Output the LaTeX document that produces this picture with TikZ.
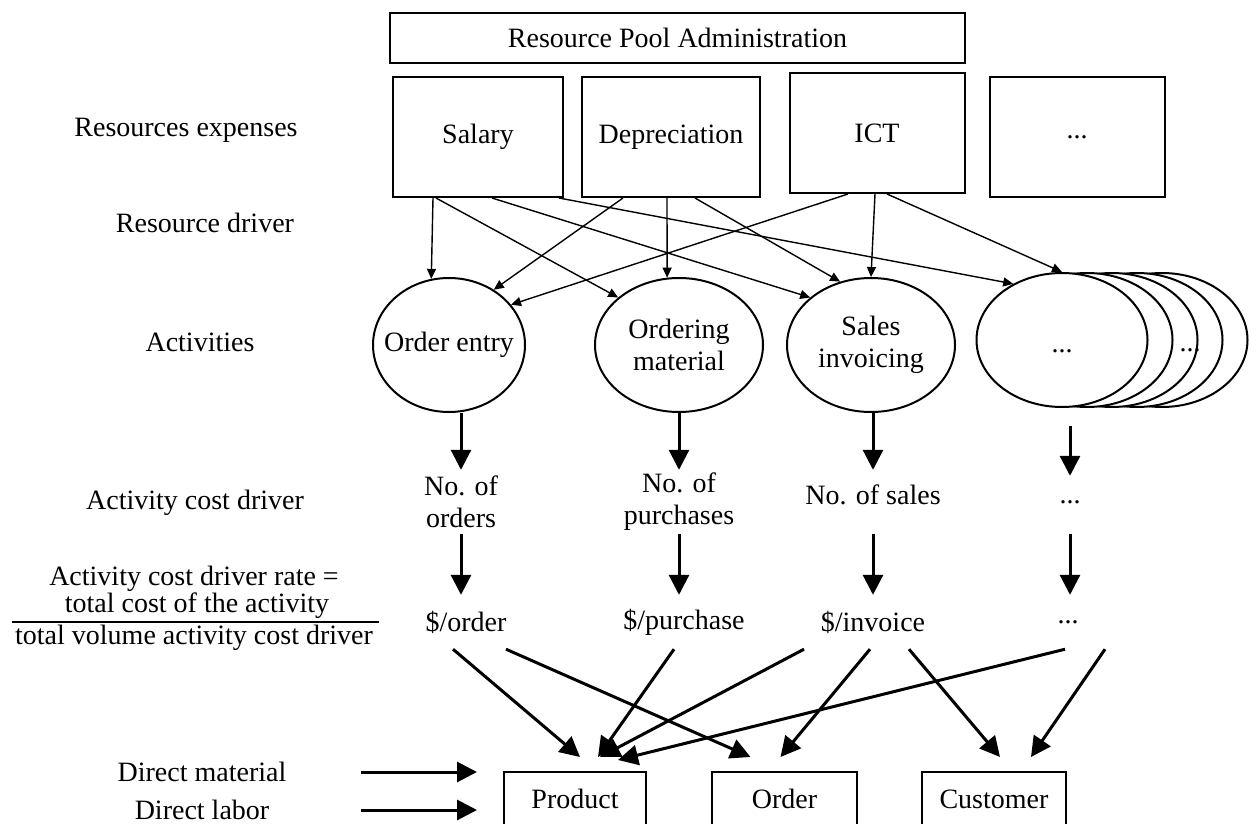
\documentclass[tikz,border=0pt]{standalone}
\usepackage{fontspec}
\setmainfont{Liberation Serif}
\usetikzlibrary{arrows.meta,shapes.geometric,calc}

\begin{document}
\begin{tikzpicture}[x=1pt, y=-1pt,
  font=\fontsize{28pt}{32pt}\selectfont,
  every node/.style={inner sep=0pt},
  rowlabel/.style={align=center},
  resbox/.style={draw, line width=2pt, minimum height=120pt, align=center},
  activity/.style={draw, ellipse, line width=2pt, fill=white, minimum width=168pt, minimum height=134pt, align=center},
  driver/.style={align=center, minimum height=64pt},
  rate/.style={align=center, minimum height=54pt},
  costobj/.style={draw, line width=2pt, minimum height=54pt, outer ysep=15pt},
  thinarrow/.style={-{Triangle[length=10pt,width=9pt]}, line width=1.4pt},
  bigarrow/.style={-{Triangle[length=20pt,width=20pt]}, line width=3pt}
]
\useasboundingbox (0,0) rectangle (1259,824);

% resources
\node[draw, line width=2pt, minimum width=575pt, minimum height=50pt] (pool) at (677.5,38) {Resource Pool Administration};
\node[resbox, minimum width=170pt] (salary) at (478,137) {Salary};
\node[resbox, minimum width=178pt] (depr) at (671,137) {Depreciation};
\node[resbox, minimum width=175pt] (ict) at (877,133) {ICT};
\node[resbox, minimum width=175pt] (resdots) at (1077,137) {...};

% row labels
\node[rowlabel] (lres) at (186,130) {Resources expenses};
\node[rowlabel] (ldrv) at (205,223) {Resource driver};
\node[rowlabel] (lact) at (200,342) {Activities};
\node[rowlabel] (lcost) at (195,503) {Activity cost driver};
\node[rowlabel] (lrate) at (194,579) {Activity cost driver rate =};
\node[rowlabel] (lnum) at (197,606) {total cost of the activity};
\node[rowlabel] (lden) at (194,638) {total volume activity cost driver};
\draw[line width=1.5pt] ($(lden.north west)+(-3pt,3pt)$) -- ($(lden.north east)+(6pt,3pt)$);

% activities
\node[activity, minimum width=152pt, inner xsep=-16pt] (oentry) at (449,345) {Order entry};
\node[activity] (omat) at (679,345) {Ordering\\material};
\node[activity] (sinv) at (871,345) {Sales\\invoicing};
\foreach \k in {4,3,2,1}
  \node[activity, minimum width=171pt] (back\k) at (1062+25*\k,340) {};
\node[activity, minimum width=171pt, text height=26pt] (actdots) at (1062,340) {...};
\node (backdots) at (1190,350) {...};

% cost drivers and rates
\node[driver] (dorder) at (461,502) {No. of\\orders};
\node[driver] (dpurch) at (679,502) {No. of\\purchases};
\node[driver, text depth=14pt] (dsales) at (873,502) {No. of sales};
\node[driver] (ddots) at (1070,502) {...};
\node[rate] (rorder) at (466,622) {\$/order};
\node[rate] (rpurch) at (684,622) {\$/purchase};
\node[rate] (rinv) at (873,622) {\$/invoice};
\node[rate] (rdots) at (1068,622) {...};

% cost objects
\node[costobj, minimum width=142pt] (product) at (575,799) {Product};
\node[costobj, minimum width=145pt] (order) at (784.5,799) {Order};
\node[costobj, minimum width=144pt] (customer) at (994,799) {Customer};
\node[rowlabel] (dmat) at (202,772) {Direct material};
\node[rowlabel] (dlab) at (202,810) {Direct labor};

% resource drivers
\draw[thinarrow] ([xshift=-45pt]salary.south) -- (oentry.105);
\draw[thinarrow] ([xshift=-42pt]salary.south) -- (omat.142);
\draw[thinarrow] ([xshift=14pt]salary.south) -- (sinv.142);
\draw[thinarrow] ([xshift=-5pt]salary.south east) -- (actdots.131);
\draw[thinarrow] ([xshift=-48pt]depr.south) -- (oentry.51);
\draw[thinarrow] ([xshift=-4pt]depr.south) -- (omat.100);
\draw[thinarrow] ([xshift=24pt]depr.south) -- (sinv.116);
\draw[thinarrow] ([xshift=-29pt]ict.south) -- (oentry.33);
\draw[thinarrow] ([xshift=-2pt]ict.south) -- (sinv.north);
\draw[thinarrow] ([xshift=10pt]ict.south) -- (actdots.north);

% activity cost drivers
\draw[bigarrow] (oentry.south -| dorder) -- (dorder);
\draw[bigarrow] (dorder) -- (dorder |- rorder.north);
\draw[bigarrow] (omat.south -| dpurch) -- (dpurch);
\draw[bigarrow] (dpurch) -- (dpurch |- rpurch.north);
\draw[bigarrow] (sinv.south -| dsales) -- (dsales);
\draw[bigarrow] (dsales) -- (dsales |- rinv.north);
\draw[bigarrow, shorten <=18pt, shorten >=-6pt] (actdots.south -| ddots) -- (ddots);
\draw[bigarrow] (ddots) -- (ddots |- rdots.north);

% assignment to cost objects
\draw[bigarrow] ([xshift=-13pt]rorder.south) -- ([xshift=5pt]product.north);
\draw[bigarrow] ([xshift=40pt]rorder.south) -- ([xshift=-34pt]order.north);
\draw[bigarrow] ([xshift=-10pt]rpurch.south) -- ([xshift=23pt]product.north);
\draw[bigarrow] ([xshift=-69pt]rinv.south) -- ([xshift=25pt]product.north);
\draw[bigarrow] ([xshift=-3pt]rinv.south) -- ([xshift=-4pt]order.north);
\draw[bigarrow] ([xshift=36pt]rinv.south) -- ([xshift=6pt]customer.north);
\draw[bigarrow] ([xshift=-3pt]rdots.south) -- ([xshift=43pt,yshift=-3pt]product.north);
\draw[bigarrow] ([xshift=37pt]rdots.south) -- ([xshift=37pt]customer.north);
\draw[bigarrow] ($(dmat.east)+(74pt,0)$) -- ($(product.west |- dmat)+(-26pt,0)$);
\draw[bigarrow] ($(dmat.east |- dlab)+(74pt,0)$) -- ($(product.west |- dlab)+(-26pt,0)$);
\end{tikzpicture}
\end{document}
